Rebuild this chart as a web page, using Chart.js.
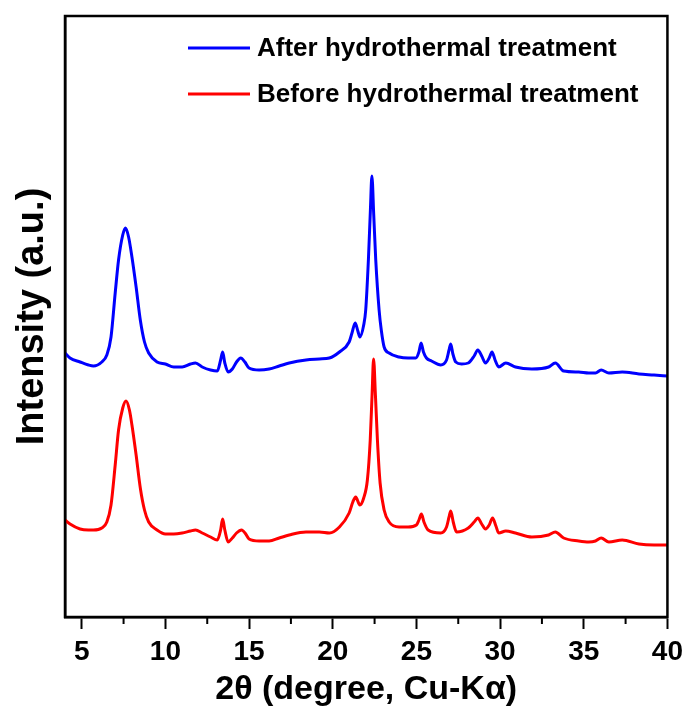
<!DOCTYPE html>
<html>
<head>
<meta charset="utf-8">
<title>XRD</title>
<script src="https://cdn.jsdelivr.net/npm/chart.js@4/dist/chart.umd.min.js"></script>
<style>
  html, body { margin: 0; padding: 0; background: #fff; }
  #wrap { width: 689px; height: 708px; }
</style>
</head>
<body>
<div id="wrap"><canvas id="xrd" width="689" height="708"></canvas></div>
<script>
// 2theta positions + intensity (a.u.)
const afterX = [4.0, 4.3, 4.9, 5.4, 5.7, 6.2, 6.5, 6.75, 7.0, 7.2, 7.45, 7.62, 7.8, 8.0, 8.25, 8.5, 8.75, 9.0, 9.5, 10.0,
  10.5, 11.0, 11.5, 11.8, 12.2, 12.7, 13.1, 13.3, 13.42, 13.55, 13.75, 14.0, 14.25, 14.5, 14.75, 15.0, 15.6, 16.2, 16.8, 17.4,
  18.4, 19.2, 19.8, 20.4, 20.98, 21.15, 21.34, 21.5, 21.62, 21.85, 21.97, 22.13, 22.25, 22.34, 22.45, 22.57, 22.77, 22.9, 23.07, 23.37,
  23.96, 24.5, 24.96, 25.15, 25.28, 25.42, 25.6, 25.9, 26.45, 26.8, 26.95, 27.05, 27.18, 27.35, 27.7, 28.1, 28.45, 28.67, 28.9, 29.13,
  29.35, 29.52, 29.7, 29.92, 30.34, 30.92, 31.9, 32.9, 33.3, 33.8, 34.7, 35.3, 35.7, 36.04, 36.5, 37.3, 38.3, 39.2, 40.0];
const afterY = [271, 266, 262, 259, 258, 262, 269, 287, 331, 364, 389, 396, 387, 367, 337, 304, 282, 271, 262, 260,
  257, 257, 260, 261, 257, 254, 253, 264, 272, 261, 252, 255, 262, 266, 262, 256, 254, 255, 258, 261,
  264, 265, 266, 272, 282, 291, 301, 293, 287, 299, 314, 364, 414, 448, 409, 364, 314, 294, 277, 271,
  267, 266, 266, 272, 281, 272, 266, 263, 259, 264, 274, 280, 270, 262, 260, 261, 268, 274, 268, 261,
  266, 272, 264, 257, 261, 257, 255, 257, 261, 253, 252, 251, 251, 254, 251, 252, 250, 249, 248];

const beforeX = [4.0, 4.3, 4.9, 5.4, 5.7, 6.2, 6.5, 6.75, 7.0, 7.2, 7.45, 7.65, 7.85, 8.0, 8.25, 8.5, 8.75, 9.0, 9.5, 10.0,
  10.5, 11.0, 11.5, 11.8, 12.2, 12.7, 13.1, 13.3, 13.42, 13.55, 13.75, 14.0, 14.25, 14.55, 14.8, 15.0, 15.6, 16.2, 16.8, 17.4,
  18.4, 19.2, 19.8, 20.4, 20.98, 21.2, 21.37, 21.62, 21.85, 22.07, 22.24, 22.35, 22.44, 22.55, 22.67, 22.83, 23.07, 23.37,
  23.96, 24.5, 25.0, 25.15, 25.3, 25.45, 25.7, 26.45, 26.8, 26.95, 27.05, 27.2, 27.4, 28.1, 28.45, 28.67, 28.9, 29.13,
  29.35, 29.55, 29.75, 29.92, 30.34, 30.92, 31.9, 32.9, 33.3, 33.8, 34.7, 35.3, 35.7, 36.04, 36.5, 37.3, 38.3, 39.2, 40.0];
const beforeY = [104, 100, 95, 94, 94, 96, 102, 119, 159, 194, 216, 223, 214, 199, 169, 136, 114, 102, 94, 90,
  90, 91, 93, 94, 91, 87, 84, 94, 105, 94, 82, 86, 91, 94, 90, 85, 83, 83, 86, 89,
  92, 92, 91, 97, 111, 122, 127, 119, 126, 144, 184, 229, 265, 229, 184, 141, 114, 102,
  97, 97, 99, 104, 110, 102, 94, 91, 97, 107, 113, 102, 92, 96, 102, 106, 100, 95,
  99, 106, 98, 91, 93, 91, 87, 89, 92, 86, 83, 82, 83, 86, 82, 84, 80, 79, 79];

const seriesLabels = ['After hydrothermal treatment', 'Before hydrothermal treatment'];
const seriesColors = ['#0000ff', '#ff0000'];
const xTicks = [5, 10, 15, 20, 25, 30, 35, 40];
const xMinorTicks = [7.5, 12.5, 17.5, 22.5, 27.5, 32.5, 37.5];
const xMin = 4, xMax = 40;
const yMin = 7, yMax = 608;

const FONT = "'Liberation Sans', Arial, Helvetica, sans-serif";
Chart.defaults.font.family = FONT;
Chart.defaults.color = '#000';

const toPoints = (xs, ys) => xs.map((x, i) => ({ x: x, y: ys[i] }));

// frame round the plot + minor ticks on x
const framePlugin = {
  id: 'frame',
  afterDraw(chart) {
    const { ctx, chartArea: a } = chart;
    const xs = chart.scales.x;
    ctx.save();
    ctx.strokeStyle = '#000';
    ctx.lineWidth = 2.5;
    ctx.strokeRect(a.left, a.top, a.right - a.left, a.bottom - a.top);
    ctx.lineWidth = 2;
    xMinorTicks.forEach(v => {
      const px = xs.getPixelForValue(v);
      ctx.beginPath();
      ctx.moveTo(px, a.bottom);
      ctx.lineTo(px, a.bottom + 7);
      ctx.stroke();
    });
    ctx.restore();
  }
};

// legend drawn inside the plot, top right
const legendPlugin = {
  id: 'innerLegend',
  afterDraw(chart, args, opts) {
    const { ctx, chartArea: a } = chart;
    ctx.save();
    ctx.font = 'bold 26px ' + FONT;
    ctx.textBaseline = 'middle';
    ctx.textAlign = 'left';
    chart.data.datasets.forEach((ds, i) => {
      const y = a.top + opts.top + i * opts.rowGap;
      const x0 = a.left + opts.left;
      ctx.strokeStyle = ds.borderColor;
      ctx.lineWidth = 3;
      ctx.beginPath();
      ctx.moveTo(x0, y);
      ctx.lineTo(x0 + opts.lineLen, y);
      ctx.stroke();
      ctx.fillStyle = '#000';
      ctx.fillText(ds.label, x0 + opts.lineLen + 7, y + 1);
    });
    ctx.restore();
  }
};

new Chart(document.getElementById('xrd'), {
  type: 'line',
  data: {
    datasets: [
      { label: seriesLabels[0], data: toPoints(afterX, afterY), borderColor: seriesColors[0] },
      { label: seriesLabels[1], data: toPoints(beforeX, beforeY), borderColor: seriesColors[1] }
    ]
  },
  options: {
    responsive: false,
    animation: false,
    layout: { padding: { top: 16, right: 20, left: 0, bottom: 0 } },
    elements: {
      line: { borderWidth: 3, cubicInterpolationMode: 'monotone', fill: false },
      point: { radius: 0 }
    },
    plugins: {
      legend: { display: false },
      tooltip: { enabled: false },
      innerLegend: { left: 123, top: 32, rowGap: 46, lineLen: 62 }
    },
    scales: {
      x: {
        type: 'linear',
        min: xMin,
        max: xMax,
        afterBuildTicks: s => { s.ticks = xTicks.map(v => ({ value: v })); },
        afterFit: s => { s.height = 91; },
        grid: { drawOnChartArea: false, drawTicks: true, tickLength: 12, tickWidth: 2, tickColor: '#000' },
        border: { color: '#000', width: 2.5 },
        ticks: { font: { size: 28, weight: 'bold' }, padding: 6, maxRotation: 0 },
        title: {
          display: true,
          text: '2θ (degree, Cu-Kα)',
          font: { size: 34, weight: 'bold', lineHeight: 1 },
          padding: { top: 0, bottom: 1 }
        }
      },
      y: {
        min: yMin,
        max: yMax,
        afterFit: s => { s.width = 65; },
        grid: { display: false },
        border: { color: '#000', width: 2.5 },
        ticks: { display: false },
        title: {
          display: true,
          text: 'Intensity (a.u.)',
          font: { size: 38, weight: 'bold', lineHeight: 1 },
          padding: { top: 14, bottom: 0 }
        }
      }
    }
  },
  plugins: [framePlugin, legendPlugin]
});
</script>
</body>
</html>
